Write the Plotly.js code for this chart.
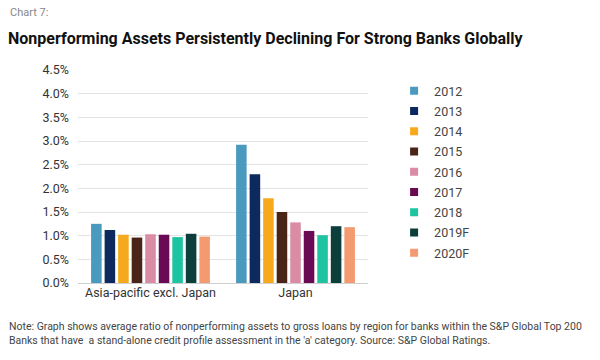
<!DOCTYPE html>
<html><head><meta charset="utf-8">
<script src="https://cdn.plot.ly/plotly-3.0.1.min.js"></script>
<style>body{margin:0;background:#fff}#c{width:600px;height:360px}</style>
</head><body><div id="c"></div>
<script>
const regions = ["Asia-pacific excl. Japan", "Japan"];
const years = ["2012","2013","2014","2015","2016","2017","2018","2019F","2020F"];
const colors = ["#4a9ac0","#0c2a5e","#f7a91d","#4a2416","#da8ca5","#6a0a55","#1ec3a1","#0c3f3b","#f39a70"];
const asiaPac = [1.25,1.12,1.02,0.96,1.03,1.02,0.97,1.04,0.98];
const japan   = [2.92,2.30,1.79,1.50,1.28,1.10,1.01,1.20,1.18];

const bars = years.map((y,i)=>({
  type:'bar', name:y, x:regions, y:[asiaPac[i], japan[i]],
  marker:{color:colors[i]}, hoverinfo:'none', showlegend:false
}));
// legend entries with small square swatches
const keys = years.map((y,i)=>({
  type:'scatter', mode:'markers', name:y, x:[null], y:[null], legendgroup:'g'+i,
  marker:{symbol:'square', size:8, color:colors[i]}, hoverinfo:'none'
}));
const font = "Roboto, 'Open Sans', sans-serif";
const layout = {
  width:600, height:360,
  margin:{l:78, r:232, t:70, b:77},
  paper_bgcolor:'#fff', plot_bgcolor:'#fff',
  font:{family:font, color:'#333', size:12},
  barmode:'group', bargap:0.16, bargroupgap:0.22,
  showlegend:true,
  legend:{x:1.09, y:0.971, xanchor:'left', yanchor:'top', font:{size:12.5, color:'#444'}, itemwidth:30, tracegroupgap:1},
  xaxis:{showgrid:false, showline:false, ticks:'', tickfont:{size:12.5,color:'#333'}},
  yaxis:{range:[0,4.5], dtick:0.5, tickformat:'.1f', ticksuffix:'%', gridcolor:'#e3e3e3', gridwidth:1,
         zeroline:true, zerolinecolor:'#d0d0d0', tickfont:{size:12.5,color:'#333'}, ticklabelstandoff:8},
  annotations:[
    {xref:'paper',yref:'paper',x:-70/290,y:1+58/213,xanchor:'left',yanchor:'middle',showarrow:false,
     text:'Chart 7:',font:{size:11,color:'#888',family:font}},
    {xref:'paper',yref:'paper',x:-72/290,y:1+32/213,xanchor:'left',yanchor:'middle',showarrow:false,
     text:'<b>Nonperforming Assets Persistently Declining For Strong Banks Globally</b>',font:{size:16,color:'#111',family:font}},
    {xref:'paper',yref:'paper',x:-71/290,y:-35/213,xanchor:'left',yanchor:'top',showarrow:false,align:'left',
     text:"Note: Graph shows average ratio of nonperforming assets to gross loans by region for banks within the S&P Global Top 200<br>Banks that have  a stand-alone credit profile assessment in the 'a' category. Source: S&P Global Ratings.",
     font:{size:10.5,color:'#444',family:font}}
  ]
};
Plotly.newPlot('c', bars.concat(keys), layout, {staticPlot:true});
</script></body></html>
